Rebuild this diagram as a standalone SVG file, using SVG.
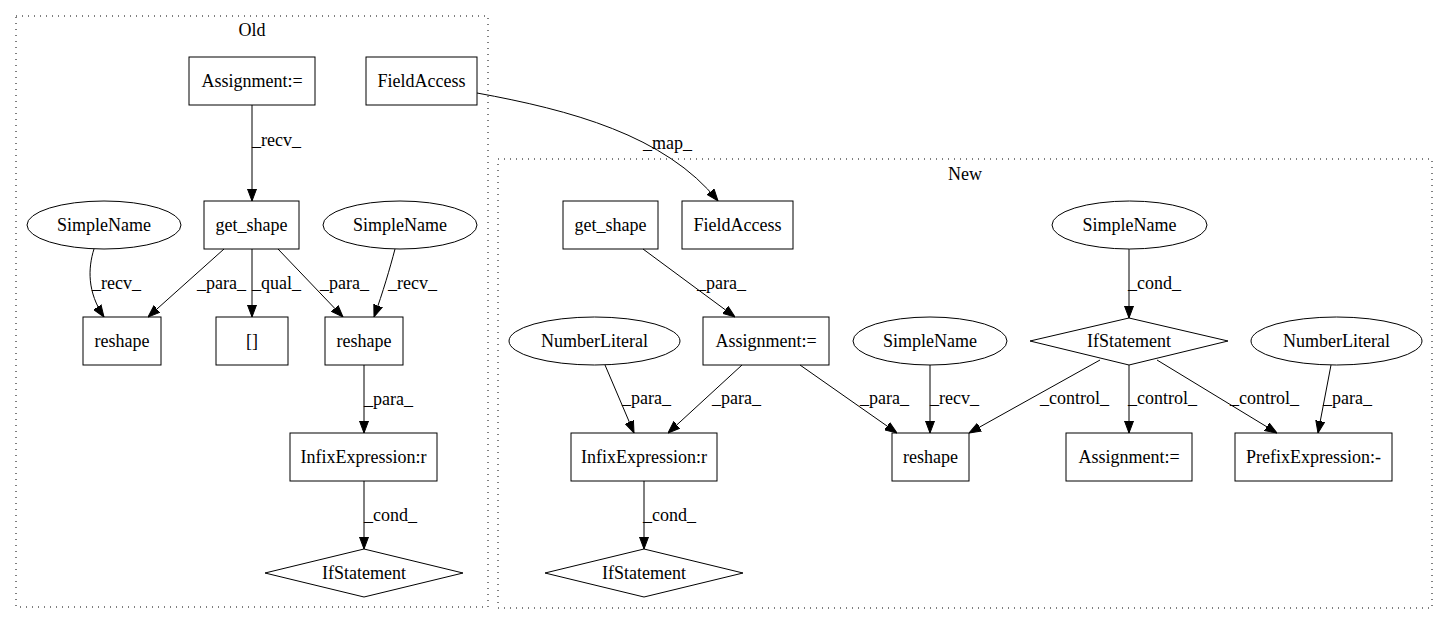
<svg xmlns="http://www.w3.org/2000/svg" width="1448" height="624" viewBox="0 0 1448 624">
<style>
text{font-family:'Liberation Serif','Times New Roman',Times,serif;font-size:18px;fill:#000}
.n text{text-anchor:middle}
.n rect,.n ellipse,.n polygon{fill:none;stroke:#000;stroke-width:1}
.cl{fill:none;stroke:#000;stroke-width:1;stroke-dasharray:1,5}
.e path{fill:none;stroke:#000;stroke-width:1;marker-end:url(#ah)}
.lbl{text-anchor:start}
</style>
<defs>
<marker id="ah" markerUnits="userSpaceOnUse" markerWidth="12" markerHeight="10" refX="12" refY="5" orient="auto">
<path d="M0,0.5 L12,5 L0,9.5 z" fill="#000" stroke="#000" stroke-width="1"/>
</marker>
</defs>
<rect width="1448" height="624" fill="#fff"/>
<g id="cluster_old">
<rect class="cl" x="16" y="16" width="472" height="591"/>
<text x="252" y="36" text-anchor="middle">Old</text>
</g>
<g id="cluster_new">
<rect class="cl" x="498" y="159" width="934" height="449"/>
<text x="965" y="180" text-anchor="middle">New</text>
</g>
<g id="old_assign" class="n"><rect x="189" y="57" width="126" height="48"/><text x="252" y="87">Assignment:=</text></g>
<g id="old_fieldaccess" class="n"><rect x="366" y="57" width="111" height="48"/><text x="421.5" y="87">FieldAccess</text></g>
<g id="old_get_shape" class="n"><rect x="204" y="201" width="95" height="48"/><text x="251.5" y="231">get_shape</text></g>
<g id="old_simplename1" class="n"><ellipse cx="104" cy="225" rx="77" ry="24"/><text x="104" y="231">SimpleName</text></g>
<g id="old_simplename2" class="n"><ellipse cx="400" cy="225" rx="77" ry="24"/><text x="400" y="231">SimpleName</text></g>
<g id="old_reshape1" class="n"><rect x="83" y="317" width="78" height="48"/><text x="122" y="347">reshape</text></g>
<g id="old_index" class="n"><rect x="216" y="317" width="72" height="48"/><text x="252" y="347">[]</text></g>
<g id="old_reshape2" class="n"><rect x="325" y="317" width="78" height="48"/><text x="364" y="347">reshape</text></g>
<g id="old_infix" class="n"><rect x="290" y="433" width="147" height="48"/><text x="363.5" y="463">InfixExpression:r</text></g>
<g id="old_if" class="n"><polygon points="364,549 463,573 364,597 265,573"/><text x="364" y="579">IfStatement</text></g>
<g id="new_get_shape" class="n"><rect x="563" y="201" width="95" height="48"/><text x="610.5" y="231">get_shape</text></g>
<g id="new_fieldaccess" class="n"><rect x="682" y="201" width="111" height="48"/><text x="737.5" y="231">FieldAccess</text></g>
<g id="new_numlit1" class="n"><ellipse cx="594.5" cy="341" rx="85.5" ry="24"/><text x="594.5" y="347">NumberLiteral</text></g>
<g id="new_assign1" class="n"><rect x="703" y="317" width="126" height="48"/><text x="766" y="347">Assignment:=</text></g>
<g id="new_simplename1" class="n"><ellipse cx="930" cy="341" rx="77" ry="24"/><text x="930" y="347">SimpleName</text></g>
<g id="new_infix" class="n"><rect x="571" y="433" width="146" height="48"/><text x="644" y="463">InfixExpression:r</text></g>
<g id="new_reshape" class="n"><rect x="892" y="433" width="77" height="48"/><text x="930.5" y="463">reshape</text></g>
<g id="new_simplename2" class="n"><ellipse cx="1129.5" cy="225" rx="77.5" ry="24"/><text x="1129.5" y="231">SimpleName</text></g>
<g id="new_if1" class="n"><polygon points="1129,318 1228,341 1129,365 1030,341"/><text x="1129" y="347">IfStatement</text></g>
<g id="new_numlit2" class="n"><ellipse cx="1336.5" cy="341" rx="85.5" ry="24"/><text x="1336.5" y="347">NumberLiteral</text></g>
<g id="new_assign2" class="n"><rect x="1066" y="433" width="126" height="48"/><text x="1129" y="463">Assignment:=</text></g>
<g id="new_prefix" class="n"><rect x="1235" y="433" width="157" height="48"/><text x="1313.5" y="463">PrefixExpression:-</text></g>
<g id="new_if2" class="n"><polygon points="644,549 743,573 644,597 545,573"/><text x="644" y="579">IfStatement</text></g>
<g id="edges" class="e">
<path d="M252,105 L252,201"/>
<path d="M94,249 C88,268 87,292 104,317"/>
<path d="M224,249 L148,317"/>
<path d="M252,249 L252,317"/>
<path d="M278,249 L343,317"/>
<path d="M395,249 C390,268 383,292 374,317"/>
<path d="M364,365 L364,433"/>
<path d="M364,481 L364,549"/>
<path d="M477,93 C570,110 665,135 718,201"/>
<path d="M643,249 L735,317"/>
<path d="M605,365 L634,433"/>
<path d="M742,365 L668,433"/>
<path d="M800,365 L897,433"/>
<path d="M930,365 L930,433"/>
<path d="M1129,249 L1129,318"/>
<path d="M1100,360 L969,433"/>
<path d="M1129,365 L1129,433"/>
<path d="M1157,360 L1277,433"/>
<path d="M1331,365 L1318,433"/>
<path d="M644,481 L644,549"/>
</g>
<g id="edge_labels">
<text class="lbl" x="252" y="146">_recv_</text>
<text class="lbl" x="92" y="289">_recv_</text>
<text class="lbl" x="197" y="289">_para_</text>
<text class="lbl" x="252" y="289">_qual_</text>
<text class="lbl" x="320" y="289">_para_</text>
<text class="lbl" x="388" y="289">_recv_</text>
<text class="lbl" x="364" y="405">_para_</text>
<text class="lbl" x="364" y="521">_cond_</text>
<text class="lbl" x="643" y="149">_map_</text>
<text class="lbl" x="697" y="289">_para_</text>
<text class="lbl" x="622" y="404">_para_</text>
<text class="lbl" x="712" y="404">_para_</text>
<text class="lbl" x="860" y="404">_para_</text>
<text class="lbl" x="930" y="404">_recv_</text>
<text class="lbl" x="1128" y="289">_cond_</text>
<text class="lbl" x="1040" y="404">_control_</text>
<text class="lbl" x="1128" y="404">_control_</text>
<text class="lbl" x="1230" y="404">_control_</text>
<text class="lbl" x="1323" y="404">_para_</text>
<text class="lbl" x="643" y="521">_cond_</text>
</g>
</svg>
